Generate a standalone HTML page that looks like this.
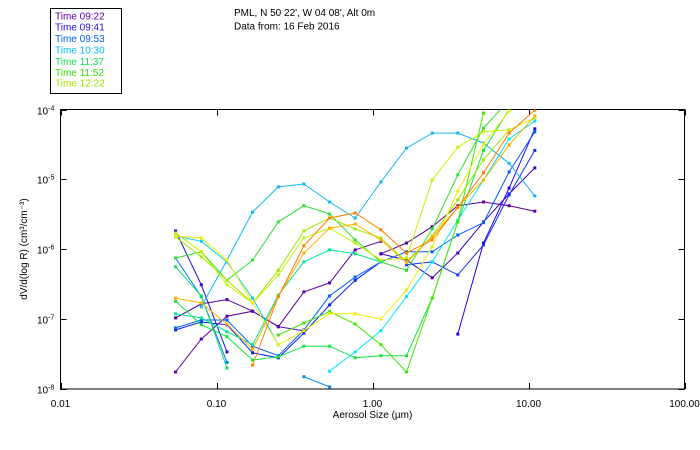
<!DOCTYPE html>
<html><head><meta charset="utf-8"><style>
body{margin:0;background:#fff;width:700px;height:450px;overflow:hidden;font-family:"Liberation Sans",sans-serif;}
svg{display:block}
text{font-family:"Liberation Sans",sans-serif;font-size:10px;fill:#000}
</style></head><body>
<svg id="chart" width="700" height="450" xmlns="http://www.w3.org/2000/svg">
<defs><clipPath id="plotclip"><rect x="60.5" y="109.5" width="624" height="279.5"/></clipPath></defs>
<rect x="50.5" y="8.5" width="71" height="85" fill="#fff" stroke="#000" stroke-width="1"/>
<g font-size="10">
<text x="55" y="19.5" style="fill:#6000a8">Time 09:22</text>
<text x="55" y="30.5" style="fill:#2010e0">Time 09:41</text>
<text x="55" y="42" style="fill:#0060ff">Time 09:53</text>
<text x="55" y="53.5" style="fill:#00c0f0">Time 10:30</text>
<text x="55" y="65" style="fill:#10e050">Time 11:37</text>
<text x="55" y="76" style="fill:#30e000">Time 11:52</text>
<text x="55" y="86.5" style="fill:#a0e000">Time 12:22</text>
</g>
<text x="234" y="16">PML, N 50 22', W 04 08', Alt 0m</text>
<text x="234" y="29.5">Data from: 16 Feb 2016</text>
<g id="axes"></g>
<g id="series" clip-path="url(#plotclip)"></g>
<text x="372.5" y="418" text-anchor="middle">Aerosol Size (µm)</text>
<text transform="translate(27,249) rotate(-90)" text-anchor="middle">dV/d(log R) (cm³/cm⁻³)</text>
</svg>
<script>
const sizes=[0.0547,0.0799,0.1167,0.1704,0.2488,0.3634,0.5306,0.7749,1.1316,1.6525,2.413,3.524,5.146,7.515,10.97];
const xTickValues=[0.01,0.1,1,10,100];
const xTickLabels=["0.01","0.10","1.00","10.00","100.00"];
const yTickValues=[1e-4,1e-5,1e-6,1e-7,1e-8];
const yTickExps=["-4","-5","-6","-7","-8"];

const s1=[1.75e-8,5.2e-8,1.1e-7,1.3e-7,7.8e-8,2.45e-7,3.3e-7,9.8e-7,1.3e-6];
const s2=[1.04e-7,1.65e-7,1.9e-7,1.3e-7,7.8e-8,6.8e-8];
const s3=[8.6e-7,1.23e-6,2.1e-6,4.2e-6,4.75e-6,4.2e-6,3.5e-6];
const s4=[8.6e-7,7.0e-7,3.9e-7,8.85e-7,2.46e-6,6.2e-6,1.46e-5];
const s5=[1.83e-6,3.1e-7,3.4e-8];
const s6=[6.1e-8,1.23e-6,7.5e-6,5.3e-5];
const s7=[6.0e-7,6.6e-7,4.3e-7,1.15e-6,6.0e-6,2.6e-5];
const s8=[7.0e-8,9.1e-8,8.3e-8,3.3e-8,2.8e-8,6.3e-8,1.6e-7,3.6e-7,6.6e-7];
const s9=[7.5e-8,9.7e-8,9.7e-8,4.1e-8,3.0e-8,7.0e-8,2.15e-7,4.0e-7,6.6e-7,9.2e-7,9.2e-7,1.6e-6,2.4e-6,1.28e-5,4.8e-5];
const s10=[7.5e-7,2.1e-7,2.4e-8];
const s11=[1.5e-8,1.07e-8];
const s12=[1.5e-7,7.0e-7,3.4e-6,7.8e-6,8.6e-6,4.75e-6,2.8e-6,9.2e-6,2.8e-5,4.6e-5,4.6e-5,3.3e-5,1.7e-5,5.8e-6];
const s13=[1.55e-6,1.3e-6,6.6e-7,2.0e-7,4.3e-8];
const s14=[1.8e-8,3.4e-8,6.8e-8,2.1e-7,6.6e-7,2.6e-6,9.8e-6,3.8e-5,6.85e-5];
const s15=[7.5e-7,9.2e-7,3.6e-7,7.0e-7,2.46e-6,4.2e-6,3.2e-6,1.36e-6,6.6e-7,5.0e-7,1.95e-6,1.16e-5,5.4e-5,1.37e-4];
const s16=[5.6e-7,2.15e-7,2.0e-8];
const s17=[1.8e-7,8.3e-8,5.6e-8,2.6e-8,2.9e-8,4.1e-8,4.1e-8,2.8e-8,3.0e-8,3.0e-8,2.0e-7,2.46e-6,2.6e-5,1.0e-4];
const s18=[1.19e-7,1.04e-7,6.6e-8,4.3e-8,2.2e-7,6.6e-7,9.8e-7,8.6e-7,6.6e-7];
const s19=[5.9e-8,8.8e-8,1.28e-7,8.5e-8,4.3e-8,1.75e-8,2.0e-7,2.46e-6,8.9e-5];
const s20=[1.5e-6,7.8e-7,3.6e-7,1.7e-7,5.0e-7,1.83e-6,2.8e-6,1.95e-6,1.45e-6,6.6e-7,1.55e-6,5.1e-6,1.9e-5,5.1e-5];
const s21=[1.7e-6,9.2e-7,3.1e-7,1.7e-7,4.3e-7,1.45e-6,2.0e-6,1.23e-6,7.0e-7,7.5e-7,9.8e-6,2.9e-5,4.8e-5,5.1e-5,7.6e-5];
const s22=[1.55e-6,1.45e-6,7.0e-7,1.7e-7,4.3e-8,6.8e-8,1.2e-7,1.19e-7,1.0e-7,2.6e-7,1.08e-6,6.8e-6,3.2e-5,9.5e-5];
const s24=[2.0e-7,1.7e-7,8.5e-8,3.7e-8,2.1e-7,8.85e-7,2.0e-6,2.3e-6,1.36e-6,6.4e-7,1.5e-6,4.0e-6,9.8e-6,3.1e-5,8.1e-5];
const s25=[2.2e-8,2.1e-7,1.12e-6,2.8e-6,3.3e-6,1.9e-6,8.85e-7,1.36e-6,4.0e-6,1.24e-5,4.6e-5,9.8e-5];

const seriesList=[
 {name:"series-0922-a",start:0,vals:s1,color:"#5c00a8"},
 {name:"series-0922-b",start:0,vals:s2,color:"#5000b0"},
 {name:"series-0922-c",start:8,vals:s3,color:"#5a00a0"},
 {name:"series-0941-c",start:8,vals:s4,color:"#4000c0"},
 {name:"series-0941-a",start:0,vals:s5,color:"#2010e0"},
 {name:"series-0941-d",start:11,vals:s6,color:"#2000f0"},
 {name:"series-0953-c",start:9,vals:s7,color:"#1030ff"},
 {name:"series-0941-b",start:0,vals:s8,color:"#1020e8"},
 {name:"series-0953-a",start:0,vals:s9,color:"#0060ff"},
 {name:"series-0953-b",start:0,vals:s10,color:"#0078ff"},
 {name:"series-0953-d",start:5,vals:s11,color:"#0090ff"},
 {name:"series-1030-a",start:1,vals:s12,color:"#10b8f0"},
 {name:"series-1030-b",start:0,vals:s13,color:"#00d0f8"},
 {name:"series-1030-c",start:6,vals:s14,color:"#00e8f0"},
 {name:"series-1137-a",start:0,vals:s15,color:"#30e030"},
 {name:"series-1137-b",start:0,vals:s16,color:"#10e060"},
 {name:"series-1137-c",start:0,vals:s17,color:"#10e840"},
 {name:"series-1152-a",start:0,vals:s18,color:"#00e890"},
 {name:"series-1152-b",start:4,vals:s19,color:"#40e800"},
 {name:"series-1222-a",start:0,vals:s20,color:"#a0e800"},
 {name:"series-1222-b",start:0,vals:s21,color:"#c8f000"},
 {name:"series-1240",start:0,vals:s22,color:"#f0f000"},
 {name:"series-1300",start:0,vals:s24,color:"#ffb000"},
 {name:"series-1320",start:3,vals:s25,color:"#ff8000"}
];

const X0=60.5,X1=684.5,Y0=389,Y1=109.5;
function xs(v){return X0+(Math.log10(v)+2)/4*(X1-X0);}
function ys(v){return Y0-(Math.log10(v)+8)/4*(Y0-Y1);}
const NS="http://www.w3.org/2000/svg";
function mk(tag,attrs,parent){const e=document.createElementNS(NS,tag);for(const k in attrs)e.setAttribute(k,attrs[k]);parent.appendChild(e);return e;}

const axes=document.getElementById('axes');
const frame=mk('rect',{x:X0,y:Y1,width:X1-X0,height:Y0-Y1,fill:'none',stroke:'#000','stroke-width':1},axes);


xTickValues.forEach((v,i)=>{
  const x=Math.round(xs(v))+0.5;
  const t1=mk('line',{x1:x,x2:x,y1:Y0,y2:Y0-6,stroke:'#000'},axes);
  
  
  const t2=mk('line',{x1:x,x2:x,y1:Y1,y2:Y1+6,stroke:'#000'},axes);
  
  
  const lb=mk('text',{x:xs(v),y:407,'text-anchor':'middle'},axes);
  lb.textContent=xTickLabels[i];
  
  
});
yTickValues.forEach((v,i)=>{
  const y=Math.round(ys(v))+0.5;
  const t1=mk('line',{x1:X0,x2:X0+6,y1:y,y2:y,stroke:'#000'},axes);
  
  
  const t2=mk('line',{x1:X1,x2:X1-6,y1:y,y2:y,stroke:'#000'},axes);
  
  
  const lb=mk('text',{x:37,y:y+4},axes);
  
  
  const a=document.createElementNS(NS,'tspan');a.textContent='10';lb.appendChild(a);
  const b=document.createElementNS(NS,'tspan');b.setAttribute('dy','-4');b.setAttribute('font-size','7');b.textContent=yTickExps[i];lb.appendChild(b);
});

const sg=document.getElementById('series');
seriesList.forEach(s=>{
  const g=mk('g',{},sg);
  
  
  const pts=s.vals.map((v,j)=>[xs(sizes[s.start+j]),ys(v)]);
  const pl=mk('polyline',{points:pts.map(p=>p[0].toFixed(1)+','+p[1].toFixed(1)).join(' '),fill:'none',stroke:s.color,'stroke-width':1},g);
  
  
  pts.forEach(p=>{
    const r=mk('rect',{x:(p[0]-1.5).toFixed(1),y:(p[1]-1.5).toFixed(1),width:3,height:3,fill:s.color},g);
    
    
  });
});
</script>
</body></html>
